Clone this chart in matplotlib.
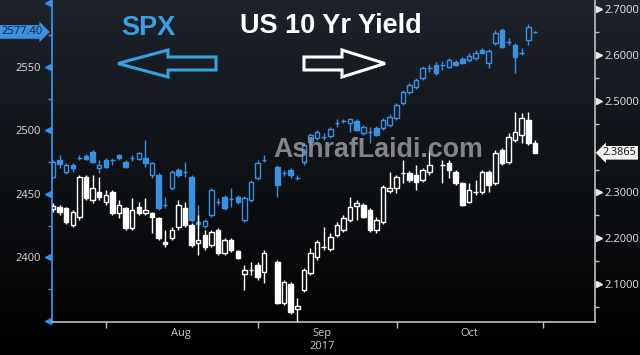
import numpy as np
import matplotlib
matplotlib.use("Agg")
import matplotlib.pyplot as plt
import matplotlib.transforms as mtransforms
from matplotlib.colors import LinearSegmentedColormap
from matplotlib.patches import FancyArrow

nan = np.nan

# daily candles, Jul 19 -> Oct 30 2017 (weekdays, gaps = market holidays)
spx_open = [2463.3, 2476.6, 2467.2, 2472.7, 2478.0, 2479.8, 2482.9, 2470.3, 2476.6, 2476.4,
            2480.6, 2475.1, 2478.0, 2477.4, 2478.2, 2464.8, 2464.8, 2441.0, 2454.6, 2468.8,
            2467.0, 2463.3, 2427.9, 2424.7, 2433.4, 2443.4, 2447.5, 2445.8, 2447.5, 2429.4,
            2445.2, 2462.5, 2476.4, nan, 2471.1, 2466.2, 2468.8, 2462.3, 2475.1, 2490.8,
            2493.9, 2494.5, 2495.5, 2505.5, 2507.1, 2505.7, 2507.3, 2497.9, 2498.4, 2501.8,
            2501.8, 2504.2, 2509.7, 2521.5, 2530.1, 2534.0, 2541.1, 2548.8, 2551.3, 2551.1,
            2549.8, 2553.7, 2556.1, 2555.3, 2556.8, 2563.1, 2552.9, 2568.6, 2578.9, 2569.2,
            2567.1, 2560.6, 2571.0, 2577.2]
spx_high = [2476.6, 2480.6, 2474.3, 2474.3, 2480.6, 2481.3, 2484.5, 2476.6, 2478.2, 2478.2,
            2481.3, 2476.6, 2480.6, 2482.9, 2492.4, 2475.1, 2466.4, 2447.5, 2468.8, 2470.3,
            2475.1, 2464.8, 2441.2, 2430.2, 2454.6, 2446.7, 2449.1, 2454.6, 2449.1, 2448.3,
            2460.9, 2476.6, 2480.6, nan, 2472.7, 2468.8, 2470.3, 2464.8, 2490.0, 2497.9,
            2500.2, 2497.9, 2502.6, 2508.9, 2508.9, 2509.7, 2508.9, 2504.2, 2502.6, 2503.4,
            2509.7, 2512.8, 2521.5, 2531.7, 2537.2, 2541.1, 2550.6, 2552.1, 2553.7, 2554.5,
            2556.8, 2555.3, 2557.6, 2560.8, 2563.1, 2564.7, 2563.9, 2578.9, 2580.4, 2572.6,
            2568.6, 2564.7, 2583.6, 2578.1]
spx_low = [2462.5, 2470.3, 2465.6, 2467.2, 2476.6, 2476.6, 2474.3, 2466.4, 2470.3, 2472.7,
           2476.6, 2470.3, 2475.8, 2476.6, 2471.1, 2462.5, 2437.3, 2438.9, 2453.0, 2463.3,
           2463.3, 2427.9, 2423.1, 2423.1, 2431.8, 2441.2, 2437.3, 2439.7, 2442.0, 2427.9,
           2443.6, 2460.9, 2475.1, nan, 2447.5, 2464.0, 2462.5, 2460.9, 2472.7, 2488.4,
           2492.4, 2492.4, 2493.9, 2502.6, 2505.7, 2498.6, 2499.4, 2496.3, 2490.0, 2495.5,
           2500.2, 2502.6, 2508.1, 2519.9, 2528.5, 2532.5, 2539.5, 2545.8, 2543.5, 2547.4,
           2549.0, 2550.6, 2552.1, 2553.7, 2555.3, 2560.0, 2549.0, 2567.1, 2564.7, 2567.1,
           2545.1, 2559.2, 2567.1, 2576.5]
spx_close = [2475.1, 2473.5, 2472.7, 2470.3, 2478.4, 2477.4, 2475.1, 2472.7, 2471.1, 2476.8,
             2478.2, 2471.1, 2478.4, 2482.1, 2474.3, 2474.3, 2438.9, 2441.4, 2467.2, 2464.8,
             2467.4, 2429.4, 2426.3, 2428.7, 2453.0, 2443.8, 2438.9, 2446.2, 2443.6, 2446.7,
             2459.3, 2474.3, 2476.8, nan, 2457.0, 2466.6, 2464.8, 2462.7, 2488.4, 2496.3,
             2498.6, 2494.9, 2501.0, 2505.9, 2507.5, 2508.9, 2500.2, 2502.6, 2498.8, 2496.3,
             2508.1, 2510.4, 2519.9, 2530.1, 2535.6, 2539.5, 2549.0, 2549.2, 2545.1, 2551.5,
             2555.3, 2551.3, 2552.9, 2558.4, 2560.8, 2560.8, 2562.4, 2576.5, 2565.5, 2569.6,
             2557.6, 2561.0, 2581.2, 2577.4]

yld_open = [2.2638, 2.2681, 2.2659, 2.2288, 2.2463, 2.3337, 2.2834, 2.3009, 2.2791, 2.3009,
            2.2550, 2.2659, 2.2222, 2.2681, 2.2550, 2.2550, 2.2441, 2.1917, 2.2004, 2.2244,
            2.2659, 2.2288, 2.1895, 2.2069, 2.1851, 2.2179, 2.1676, 2.1960, 2.1720, 2.1218,
            2.1300, 2.1414, 2.1261, nan, 2.1480, 2.0584, 2.0999, 2.0453, 2.0868, 2.1240,
            2.1589, 2.1804, 2.1764, 2.2069, 2.2179, 2.2397, 2.2703, 2.2725, 2.2616, 2.2179,
            2.2354, 2.3031, 2.3096, 2.3420, 2.3424, 2.3380, 2.3271, 2.3446, nan, 2.3597,
            2.3642, 2.3446, 2.3205, 2.2791, 2.3007, 2.3009, 2.3446, 2.3205, 2.3926, 2.3664,
            2.4145, 2.4254, 2.4582, 2.4079]
yld_high = [2.2769, 2.2725, 2.2681, 2.2616, 2.3380, 2.3380, 2.3380, 2.3337, 2.3053, 2.3053,
            2.2834, 2.2681, 2.2878, 2.2791, 2.2878, 2.2572, 2.2463, 2.2179, 2.2244, 2.2834,
            2.2791, 2.2332, 2.2500, 2.2179, 2.2179, 2.2222, 2.2004, 2.2004, 2.1742, 2.1414,
            2.1480, 2.1480, 2.1742, nan, 2.1523, 2.1087, 2.1043, 2.0693, 2.1349, 2.1786,
            2.1960, 2.2244, 2.2113, 2.2354, 2.2506, 2.2900, 2.2834, 2.2769, 2.2659, 2.2463,
            2.3162, 2.3446, 2.3380, 2.3708, 2.3468, 2.3599, 2.3533, 2.3926, nan, 2.3708,
            2.3708, 2.3490, 2.3227, 2.3205, 2.3271, 2.3490, 2.3490, 2.3926, 2.3970, 2.4298,
            2.4756, 2.4735, 2.4756, 2.4145]
yld_low = [2.2572, 2.2506, 2.2310, 2.2244, 2.2397, 2.2834, 2.2769, 2.2834, 2.2725, 2.2506,
           2.2441, 2.2179, 2.2179, 2.2506, 2.2506, 2.2113, 2.1960, 2.1808, 2.1960, 2.2179,
           2.2244, 2.1808, 2.1633, 2.1742, 2.1808, 2.1633, 2.1633, 2.1698, 2.1545, 2.0868,
           2.1196, 2.1087, 2.1021, nan, 2.0562, 2.0541, 2.0344, 2.0169, 2.0825, 2.1196,
           2.1523, 2.1742, 2.1720, 2.2026, 2.2135, 2.2354, 2.2397, 2.2441, 2.2135, 2.2113,
           2.2310, 2.2987, 2.2987, 2.3205, 2.3227, 2.3053, 2.3227, 2.3380, nan, 2.3205,
           2.3315, 2.3162, 2.2703, 2.2769, 2.2943, 2.2965, 2.3009, 2.3162, 2.3599, 2.3621,
           2.4101, 2.4079, 2.4035, 2.3861]
yld_close = [2.2703, 2.2572, 2.2354, 2.2572, 2.3337, 2.2878, 2.3096, 2.2900, 2.2943, 2.2550,
             2.2725, 2.2222, 2.2616, 2.2550, 2.2616, 2.2463, 2.2004, 2.1873, 2.2179, 2.2725,
             2.2288, 2.1851, 2.1960, 2.1808, 2.2135, 2.1676, 2.1960, 2.1742, 2.1567, 2.1305,
             2.1310, 2.1152, 2.1676, nan, 2.0584, 2.1043, 2.0388, 2.0519, 2.1305, 2.1676,
             2.1917, 2.1812, 2.2026, 2.2288, 2.2441, 2.2681, 2.2769, 2.2463, 2.2179, 2.2397,
             2.3118, 2.3096, 2.3337, 2.3428, 2.3271, 2.3227, 2.3490, 2.3599, nan, 2.3601,
             2.3490, 2.3205, 2.2725, 2.3053, 2.3011, 2.3446, 2.3162, 2.3861, 2.3642, 2.4210,
             2.4320, 2.4625, 2.4079, 2.3861]

month_labels = ["Aug", "Sep\n2017", "Oct"]
month_centers = [19.4, 40.8, 63.0]
month_edges = [8.0, 31.1, 52.1, 74.2]

spx_last = 2577.40
yld_last = 2.3865

BLUE = "#3d8fe0"
LIGHT = "#bfbfbf"
W, H = 640, 355


def candles(ax, o, h, l, c, color, width=0.68):
    o, h, l, c = (np.asarray(a, dtype=float) for a in (o, h, l, c))
    x = np.arange(len(o))
    ok = ~np.isnan(o)
    x, o, h, l, c = x[ok], o[ok], h[ok], l[ok], c[ok]
    top = np.maximum(o, c)
    bot = np.minimum(o, c)
    ax.vlines(x, top, h, color=color, lw=1)
    ax.vlines(x, l, bot, color=color, lw=1)
    up = c >= o
    ax.bar(x[up], (top - bot)[up], width, bottom=bot[up], facecolor="none",
           edgecolor=color, lw=1)
    ax.bar(x[~up], (top - bot)[~up], width, bottom=bot[~up], facecolor=color,
           edgecolor=color, lw=1)


fig = plt.figure(figsize=(6.4, 3.55), dpi=100)

# dark gradient backdrop
bg = fig.add_axes([0, 0, 1, 1])
bg.axis("off")
cmap = LinearSegmentedColormap.from_list("bbg", ["#1e232c", "#0e1115", "#000000"])
bg.imshow(np.linspace(0, 1, 256)[:, None], aspect="auto", cmap=cmap,
          extent=[0, 1, 0, 1], origin="upper")

ax = fig.add_axes([52 / W, 1 - 322 / H, (595 - 52) / W, 322 / H])
ax.set_facecolor("none")
ax2 = ax.twinx()

candles(ax, spx_open, spx_high, spx_low, spx_close, BLUE)
candles(ax2, yld_open, yld_high, yld_low, yld_close, "white")

ax.set_xlim(-0.15, 82.1)
ax.set_ylim(2349.2, 2602.5)
ax2.set_ylim(2.0169, 2.7203)

for s in ["top", "right"]:
    ax.spines[s].set_visible(False)
for s in ["top", "left", "bottom"]:
    ax2.spines[s].set_visible(False)
ax.spines["left"].set_color(BLUE)
ax.spines["left"].set_linewidth(1.3)
ax.spines["bottom"].set_color(LIGHT)
ax.spines["bottom"].set_linewidth(1.2)
ax2.spines["right"].set_color(LIGHT)
ax2.spines["right"].set_linewidth(1.2)

# left (SPX) axis
ax.set_yticks([2400, 2450, 2500, 2550])
ax.set_yticks(np.arange(2375, 2600, 50), minor=True)
ax.tick_params(axis="y", which="major", length=0, pad=8, labelsize=8,
               labelcolor="#dcdcdc", labelfontfamily="Open Sans")
ax.tick_params(axis="y", which="minor", length=3, width=1, color=BLUE)

# right (yield) axis
ax2.set_yticks([2.1, 2.2, 2.3, 2.5, 2.6, 2.7])
ax2.set_yticklabels(["%.4f" % v for v in [2.1, 2.2, 2.3, 2.5, 2.6, 2.7]])
ax2.set_yticks(np.arange(2.05, 2.70, 0.1), minor=True)
ax2.tick_params(axis="y", which="major", length=0, pad=7, labelsize=8,
                labelcolor="#e6e6e6", labelfontfamily="Open Sans")
ax2.tick_params(axis="y", which="minor", length=3, width=1, color=LIGHT)

# x axis: month names centred, month boundaries as small ticks
ax.set_xticks(month_centers, labels=month_labels)
ax.set_xticks(month_edges, minor=True)
ax.tick_params(axis="x", which="major", length=0, pad=4, labelsize=8,
               labelcolor="#c8c8c8", labelfontfamily="Open Sans")
ax.tick_params(axis="x", which="minor", length=4, width=1, color=LIGHT)
for t in ax.get_xticklabels():
    t.set_linespacing(1.3)

# bloomberg-style triangle tick marks
tl = mtransforms.blended_transform_factory(ax.transAxes, ax.transData)
tr = mtransforms.blended_transform_factory(ax2.transAxes, ax2.transData)
spx_marks = np.arange(2350, 2601, 50)
yld_marks = np.array([2.1, 2.2, 2.3, 2.5, 2.6, 2.7])
ax.plot(np.full(len(spx_marks), -0.0065), spx_marks, ls="none", marker="<", ms=4.5,
        color=BLUE, transform=tl, clip_on=False)
ax2.plot(np.full(len(yld_marks), 1.0065), yld_marks, ls="none", marker=">", ms=4.5,
         color="#e6e6e6", transform=tr, clip_on=False)

# last-price flags
ax.text(-0.0175, spx_last, "%.2f" % spx_last, transform=tl, ha="right", va="center",
        fontsize=8, family="Open Sans", color="#0b2340", zorder=6,
        bbox=dict(boxstyle="rarrow,pad=0.12", fc=BLUE, ec="none"))
ax2.text(1.0145, yld_last, "%.4f" % yld_last, transform=tr, ha="left", va="center",
         fontsize=7.8, family="Open Sans", color="#111111", zorder=6,
         bbox=dict(boxstyle="larrow,pad=0.12", fc="#f2f2f2", ec="none"))

# overlay layer in pixel units for titles, arrows and watermark
ov = fig.add_axes([0, 0, 1, 1], zorder=5)
ov.set_xlim(0, W)
ov.set_ylim(H, 0)
ov.axis("off")
ov.patch.set_visible(False)

ov.text(148.5, 35, "SPX", ha="center", va="baseline", fontsize=19.5,
        family="Liberation Sans", weight="bold", color="#38a2e0")
ov.text(240, 33, "US 10 Yr Yield", ha="left", va="baseline", fontsize=19.5,
        family="Liberation Sans", weight="bold", color="white")
ov.add_patch(FancyArrow(216, 63.5, -98, 0, width=13, head_width=27, head_length=50,
                        length_includes_head=True, fill=False, ec="#38a2e0", lw=2.2))
ov.add_patch(FancyArrow(304, 63.5, 81, 0, width=13, head_width=27, head_length=43,
                        length_includes_head=True, fill=False, ec="white", lw=2.2))
ov.text(273, 157, "AshrafLaidi.com", ha="left", va="baseline", fontsize=19.3,
        family="Liberation Sans", weight="bold", color="#9a9a9a", alpha=0.85)

fig.savefig("out.png", dpi=100)
